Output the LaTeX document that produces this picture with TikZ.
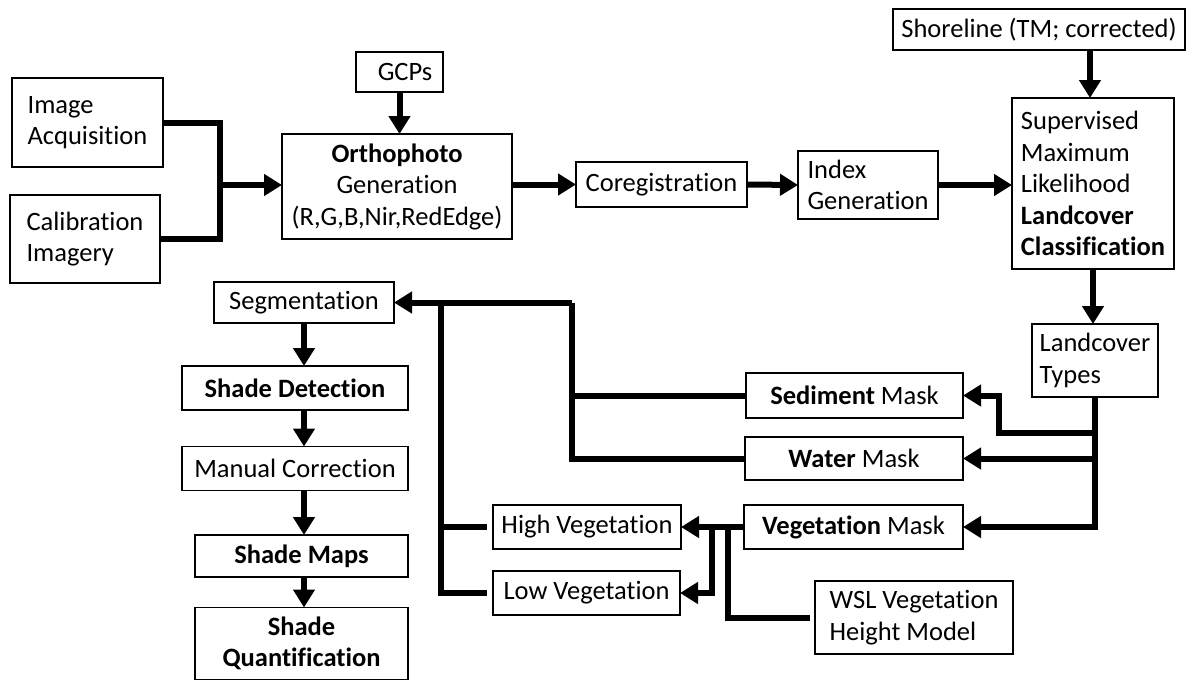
\documentclass[tikz,border=0pt]{standalone}
\usepackage{fontspec}
\setmainfont{Carlito}[Ligatures=NoCommon]
\usetikzlibrary{arrows.meta}
\begin{document}
\begin{tikzpicture}[x=1pt,y=-1pt,
  box/.style={draw, line width=1.5pt, inner sep=0pt, outer sep=0pt, align=center,
    font=\fontsize{26.5}{31.5}\selectfont},
  lbox/.style={box, align=left},
  conn/.style={line width=6pt, line join=miter},
  arr/.style={conn, -{Triangle[length=18pt,width=21pt]}}]
\useasboundingbox[fill=white] (0,0) rectangle (1190,689);

% nodes
\node[lbox, minimum width=151pt, minimum height=89pt] (img) at (87.5,122.5) {Image\\Acquisition};
\node[lbox, minimum width=150pt, minimum height=88pt] (cal) at (85,239) {Calibration\\Imagery};
\node[box, minimum width=87pt, minimum height=40pt] (gcp) at (399.5,72) {\hspace*{11pt}GCPs};
\node[box, minimum width=230pt, minimum height=105pt] (ortho) at (397,186.5) {\textbf{Orthophoto}\\Generation\\(R,G,B,Nir,RedEdge)};
\node[box, minimum width=171pt, minimum height=45pt] (coreg) at (661.5,184.5) {Coregistration};
\node[lbox, minimum width=140pt, minimum height=68pt] (index) at (868,185) {Index\\Generation};
\node[box, minimum width=292pt, minimum height=41pt] (shore) at (1039,29.5) {Shoreline (TM; corrected)};
\node[lbox, minimum width=162pt, minimum height=171pt] (sup) at (1093,183.5) {Supervised\\Maximum\\Likelihood\\\textbf{Landcover}\\\textbf{Classification}};
\node[lbox, minimum width=126pt, minimum height=73pt] (ltypes) at (1095,360.5) {Landcover\\Types};
\node[box, minimum width=217pt, minimum height=45pt] (sed) at (854.5,395.5) {\textbf{Sediment} Mask};
\node[box, minimum width=218pt, minimum height=43pt] (water) at (854,458.5) {\textbf{Water} Mask};
\node[box, minimum width=219pt, minimum height=44pt] (veg) at (853.5,527) {\textbf{Vegetation} Mask};
\node[box, minimum width=188pt, minimum height=44pt] (high) at (587,527) {High Vegetation};
\node[box, minimum width=187pt, minimum height=44pt] (low) at (586.5,593) {Low Vegetation};
\node[lbox, minimum width=198pt, minimum height=73pt] (wsl) at (914,617.5) {WSL Vegetation\\Height Model};
\node[box, minimum width=180pt, minimum height=41pt] (seg) at (304,302.5) {Segmentation};
\node[box, minimum width=226pt, minimum height=44pt] (shd) at (295,388) {\textbf{Shade Detection}};
\node[box, minimum width=226pt, minimum height=44pt] (man) at (295,468.5) {Manual Correction};
\node[box, minimum width=213pt, minimum height=42pt] (maps) at (301.5,556) {\textbf{Shade Maps}};
\node[box, minimum width=213pt, minimum height=72pt] (quant) at (301.5,643.5) {\textbf{Shade}\\\textbf{Quantification}};

% junctions
\coordinate (jA) at (220,185);
\coordinate (jS) at (1095,433);
\coordinate (jX) at (572,302.5);
\coordinate (jL) at (441,302.5);
\coordinate (jH) at (712,527);
\coordinate (jW) at (728,527);

% top row
\draw[conn] (img.east) -| (jA) |- (cal.east);
\draw[arr] (jA) -- (jA -| ortho.west);
\draw[arr] (gcp.south) -- (gcp.south |- ortho.north);
\draw[arr] (ortho.east |- coreg.west) -- (coreg.west);
\draw[arr] (coreg.east) -- (index.west);
\draw[arr] (index.east) -- (index.east -| sup.west);
\draw[arr] (1090,0 |- shore.south) -- (1090,0 |- sup.north);
\draw[arr] (sup.south) -- (sup.south |- ltypes.north);

% landcover types to masks
\draw[arr] (ltypes.south) |- (veg.east);
\draw[arr] (ltypes.south |- water.east) -- (water.east);
\draw[arr] (jS) -| ([xshift=36pt]sed.east) -- (sed.east);

% masks to segmentation
\draw[conn] (water.west) -| (jX);
\draw[conn] (sed.west) -- (sed.west -| jX);
\draw[arr] (jX) -- (seg.east);
\draw[conn, shorten >=6pt] (jL) |- (low.west);
\draw[conn, shorten >=6pt] (jL |- high.west) -- (high.west);

% vegetation mask split
\draw[arr] (veg.west) -- (high.east);
\draw[arr] (jH) |- (low.east);
\draw[conn, shorten >=5pt] (jW) |- (wsl.west);

% shade chain
\draw[arr] (seg.south) -- (seg.south |- shd.north);
\draw[arr] (seg.south |- shd.south) -- (seg.south |- man.north);
\draw[arr] (seg.south |- man.south) -- (seg.south |- maps.north);
\draw[arr] (seg.south |- maps.south) -- (seg.south |- quant.north);
\end{tikzpicture}
\end{document}
